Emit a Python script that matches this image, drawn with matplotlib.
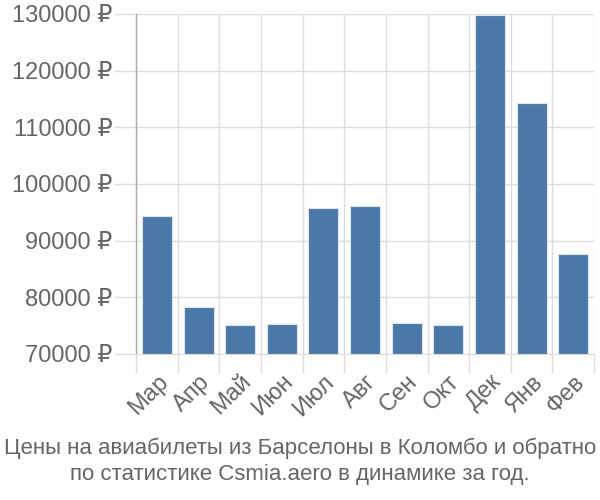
import numpy as np
import matplotlib
matplotlib.use("Agg")
from matplotlib import pyplot as plt
from matplotlib.ticker import FuncFormatter, FixedLocator

plt.rcParams['font.family'] = ['Liberation Sans', 'DejaVu Sans']

months = ["Мар", "Апр", "Май", "Июн", "Июл", "Авг", "Сен", "Окт", "Дек", "Янв", "Фев"]
prices = [94400, 78250, 75100, 75250, 95850, 96150, 75450, 75100, 129800, 114250, 87650]
yticks = [70000, 80000, 90000, 100000, 110000, 120000, 130000]
title = "Цены на авиабилеты из Барселоны в Коломбо и обратно\nпо статистике Csmia.aero в динамике за год."

fig = plt.figure(figsize=(6, 5), dpi=100)
ax = fig.add_axes([0.227, 0.292, 0.763, 0.68])

x = np.arange(len(months))
base = yticks[0]
ax.bar(x, np.array(prices) - base, bottom=base, width=0.72,
       color="#4c78a8", edgecolor="#dbe4ef", linewidth=0.8, zorder=3)

ax.set_xlim(-0.5, len(months) - 0.5)
ax.set_ylim(yticks[0], yticks[-1])
ax.set_yticks(yticks)
ax.yaxis.set_major_formatter(FuncFormatter(lambda v, p: f"{int(v)} ₽"))
ax.set_xticks(x)
ax.set_xticklabels(months, rotation=45, ha="right", rotation_mode="anchor")
ax.xaxis.set_minor_locator(FixedLocator(np.arange(len(months) + 1) - 0.5))

ax.grid(True, axis="y", color="#dddddd", linewidth=1, zorder=0)
ax.grid(True, axis="x", which="minor", color="#dddddd", linewidth=1, zorder=0)
ax.tick_params(axis="x", which="major", length=0, pad=12, labelsize=17, labelcolor="#666666")
ax.tick_params(axis="x", which="minor", length=14, color="#dddddd", width=1)
ax.tick_params(axis="y", length=16, color="#dddddd", width=1, pad=1, labelsize=17, labelcolor="#666666")

for s in ["top", "right"]:
    ax.spines[s].set_visible(False)
ax.spines["bottom"].set_color("#dddddd")
ax.spines["left"].set_color("#aaaaaa")
ax.spines["left"].set_linewidth(1)

fig.text(0.5, 0.03, title, ha="center", va="bottom", fontsize=16,
         color="#666666", linespacing=1.3)

fig.savefig("out.png", dpi=100)
